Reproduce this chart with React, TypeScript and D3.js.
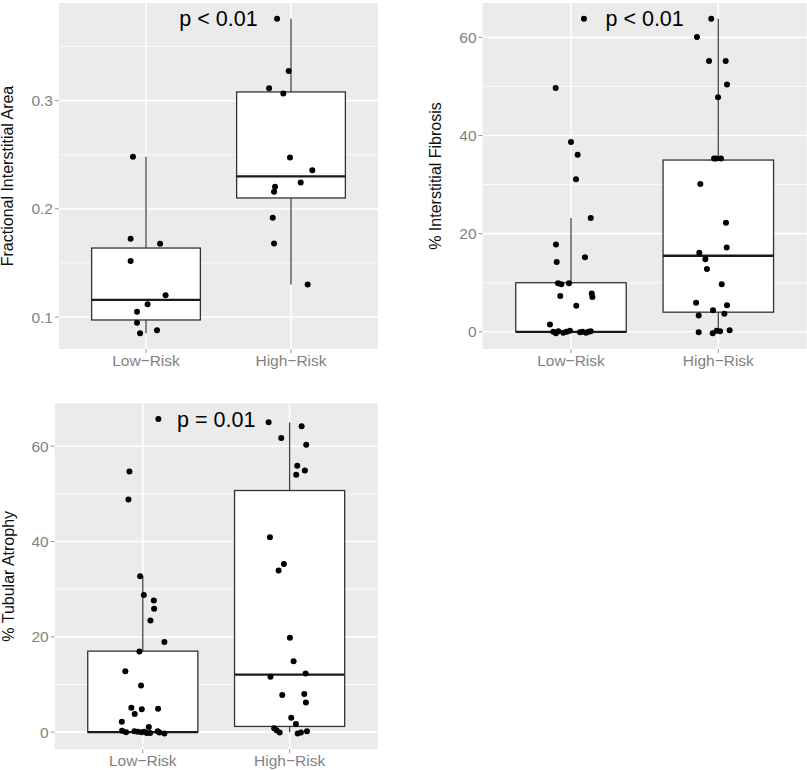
import React from 'react';
import * as d3 from 'd3';

const categories = ['Low\u2212Risk', 'High\u2212Risk'];

// Fractional Interstitial Area
const fiaLow = [0.248, 0.1723, 0.1677, 0.1517, 0.12, 0.1117, 0.1049, 0.0947, 0.0877, 0.0849];
const fiaLowJit = [-0.09, -0.106, 0.097, -0.106, 0.135, 0.011, -0.062, -0.062, 0.076, -0.041];
const fiaHigh = [0.3757, 0.3273, 0.3114, 0.3065, 0.2474, 0.2357, 0.2243, 0.2203, 0.2157, 0.1917, 0.168, 0.13];
const fiaHighJit = [-0.096, -0.016, -0.151, -0.053, -0.007, 0.147, 0.067, -0.11, -0.117, -0.126, -0.117, 0.115];
// whisker low, q1, median, q3, whisker high
const fiaLowBox = [0.085, 0.0972, 0.1157, 0.1637, 0.248];
const fiaHighBox = [0.13, 0.21, 0.23, 0.308, 0.3757];

// % Interstitial Fibrosis
const ifLow = [63.8, 49.7, 38.7, 36.1, 31.1, 23.2, 17.8, 15.2, 14.2, 9.9, 9.7, 9.9, 7.3, 7.8, 7.1, 5.3, 1.5,
  0, -0.3, 0.1, -0.2, 0, 0.2, -0.1, 0, -0.2, 0, 0.1];
const ifLowJit = [0.088, -0.104, 0, 0.045, 0.034, 0.134, -0.102, 0.095, -0.097, -0.088, -0.066, -0.014, -0.073, 0.141, 0.145, 0.036, -0.143,
  -0.12, -0.102, -0.086, -0.052, -0.029, -0.007, 0.061, 0.079, 0.102, 0.118, 0.134];
const ifHigh = [63.8, 60.1, 55.2, 55.2, 50.4, 47.8, 35.3, 35.3, 35.3, 30.1, 22.2, 17.2, 16.1, 14.8, 12.8, 9.7, 5.9, 5.4, 4.4, 3.7, 3.3,
  -0.1, -0.3, 0.2, 0.1, 0.3];
const ifHighJit = [-0.048, -0.145, -0.063, 0.05, 0.059, -0.002, -0.029, -0.014, 0.018, -0.122, 0.052, 0.057, -0.129, -0.088, -0.077, 0.023, -0.151, 0.059, -0.036, 0.041, -0.133,
  -0.133, -0.038, -0.011, 0.012, 0.077];
const ifLowBox = [0, 0, 0, 10, 23.2];
const ifHighBox = [0, 4, 15.5, 35, 63.8];

// % Tubular Atrophy
const taLow = [65.7, 54.7, 48.8, 32.7, 28.8, 27.6, 25.9, 23.4, 18.9, 16.9, 12.8, 9.8, 5.1, 4.8, 4.9, 3.8, 2.2, 1.1,
  0.3, 0, 0.2, 0.1, 0, 0.1, -0.2, -0.2, 0.2, -0.1, -0.3];
const taLowJit = [0.106, -0.091, -0.098, -0.018, 0.007, 0.075, 0.077, 0.052, 0.147, -0.023, -0.119, -0.012, -0.078, -0.007, 0.104, -0.055, -0.143, 0.041,
  -0.141, -0.114, -0.057, -0.034, -0.007, 0.011, 0.027, 0.05, 0.102, 0.113, 0.147];
const taHigh = [65, 64.2, 61.7, 60.3, 55.9, 54.9, 54, 40.9, 35.3, 33.9, 19.8, 14.9, 12.3, 11.6, 7.8, 8, 6.2, 3, 1.7,
  0.8, 0.4, -0.1, -0.3, -0.1, 0.2];
const taHighJit = [-0.143, 0.082, -0.057, 0.113, 0.052, 0.104, 0.045, -0.134, -0.039, -0.075, 0.002, 0.027, 0.109, -0.13, -0.05, 0.1, 0.111, 0.011, 0.043,
  -0.105, -0.089, -0.068, 0.055, 0.077, 0.118];
const taLowBox = [0, 0, 0, 17, 32.7];
const taHighBox = [0, 1.2, 12.05, 50.7, 65];

const pLabels = ['p < 0.01', 'p < 0.01', 'p = 0.01'];
const yTitles = ['Fractional Interstitial Area', '% Interstitial Fibrosis', '% Tubular Atrophy'];

const FONT = 'Liberation Sans, Arial, Helvetica, sans-serif';

type Group = { values: number[]; jitter: number[]; box: number[] };
type PanelDef = {
  left: number; top: number; width: number; height: number; titleX: number;
  title: string; label: string; ticks: number[]; minor: number[]; fmt: (v: number) => string;
  groups: Group[];
};

const panels: PanelDef[] = [
  {
    left: 59, top: 3, width: 319, height: 346, titleX: 7.5,
    title: yTitles[0], label: pLabels[0],
    ticks: [0.1, 0.2, 0.3], minor: [0.05, 0.15, 0.25, 0.35], fmt: d3.format('.1f'),
    groups: [
      { values: fiaLow, jitter: fiaLowJit, box: fiaLowBox },
      { values: fiaHigh, jitter: fiaHighJit, box: fiaHighBox },
    ],
  },
  {
    left: 482.6, top: 3, width: 324.1, height: 346, titleX: 435,
    title: yTitles[1], label: pLabels[1],
    ticks: [0, 20, 40, 60], minor: [10, 30, 50], fmt: d3.format('d'),
    groups: [
      { values: ifLow, jitter: ifLowJit, box: ifLowBox },
      { values: ifHigh, jitter: ifHighJit, box: ifHighBox },
    ],
  },
  {
    left: 54.7, top: 403.3, width: 323, height: 346, titleX: 8,
    title: yTitles[2], label: pLabels[2],
    ticks: [0, 20, 40, 60], minor: [10, 30, 50, 70], fmt: d3.format('d'),
    groups: [
      { values: taLow, jitter: taLowJit, box: taLowBox },
      { values: taHigh, jitter: taHighJit, box: taHighBox },
    ],
  },
];

const Panel = ({ p }: { p: PanelDef }) => {
  const all = p.groups.flatMap((g) => g.values);
  const [mn, mx] = d3.extent(all) as [number, number];
  const pad = (mx - mn) * 0.05;
  const y = d3.scaleLinear().domain([mn - pad, mx + pad]).range([p.top + p.height, p.top]);
  const x = d3.scalePoint<string>().domain(categories).range([p.left, p.left + p.width]).padding(0.6);
  const step = x.step();
  const bw = step * 0.75;
  const bottom = p.top + p.height;
  const inRange = (v: number) => v >= y.domain()[0] && v <= y.domain()[1];
  const midX = ((x(categories[0]) as number) + (x(categories[1]) as number)) / 2;

  return (
    <g>
      <rect x={p.left} y={p.top} width={p.width} height={p.height} fill="#ebebeb" />
      {p.minor.filter(inRange).map((t) => (
        <line key={'mn' + t} x1={p.left} x2={p.left + p.width} y1={y(t)} y2={y(t)} stroke="#fff" strokeWidth={0.8} />
      ))}
      {p.ticks.map((t) => (
        <line key={'mj' + t} x1={p.left} x2={p.left + p.width} y1={y(t)} y2={y(t)} stroke="#fff" strokeWidth={1.6} />
      ))}
      {categories.map((c) => (
        <line key={'vx' + c} x1={x(c)} x2={x(c)} y1={p.top} y2={bottom} stroke="#fff" strokeWidth={1.6} />
      ))}
      {p.groups.map((g, i) => {
        const cx = x(categories[i]) as number;
        const [lo, q1, med, q3, hi] = g.box;
        return (
          <g key={'box' + i}>
            <line x1={cx} x2={cx} y1={y(q3)} y2={y(hi)} stroke="#444" strokeWidth={1.3} />
            <line x1={cx} x2={cx} y1={y(q1)} y2={y(lo)} stroke="#444" strokeWidth={1.3} />
            <rect x={cx - bw / 2} y={y(q3)} width={bw} height={y(q1) - y(q3)} fill="#fff" stroke="#333" strokeWidth={1.3} />
            <line x1={cx - bw / 2} x2={cx + bw / 2} y1={y(med)} y2={y(med)} stroke="#1a1a1a" strokeWidth={2.3} />
          </g>
        );
      })}
      {p.groups.map((g, i) =>
        g.values.map((v, j) => (
          <circle key={'pt' + i + '-' + j} cx={(x(categories[i]) as number) + g.jitter[j] * step} cy={y(v)} r={3} fill="#000" />
        ))
      )}
      <text x={midX} y={y(mx)} dy="0.36em" textAnchor="middle" fontFamily={FONT} fontSize={21.5} fill="#000">
        {p.label}
      </text>
      {p.ticks.map((t) => (
        <g key={'yt' + t}>
          <line x1={p.left - 4} x2={p.left} y1={y(t)} y2={y(t)} stroke="#999" strokeWidth={1} />
          <text x={p.left - 6} y={y(t)} dy="0.36em" textAnchor="end" fontFamily={FONT} fontSize={15.5} fill="#828282">
            {p.fmt(t)}
          </text>
        </g>
      ))}
      {categories.map((c) => (
        <g key={'xt' + c}>
          <line x1={x(c)} x2={x(c)} y1={bottom} y2={bottom + 4} stroke="#999" strokeWidth={1} />
          <text x={x(c)} y={bottom + 17} textAnchor="middle" fontFamily={FONT} fontSize={15.5} fill="#828282">
            {c}
          </text>
        </g>
      ))}
      <text
        transform={`translate(${p.titleX},${p.top + p.height / 2}) rotate(-90)`}
        dy="0.36em"
        textAnchor="middle"
        fontFamily={FONT}
        fontSize={16}
        fill="#111"
      >
        {p.title}
      </text>
    </g>
  );
};

export default function App() {
  return (
    <svg width={807} height={770} style={{ position: 'absolute', left: 0, top: 0, background: '#fff' }}>
      {panels.map((p, i) => (
        <Panel key={i} p={p} />
      ))}
    </svg>
  );
}
